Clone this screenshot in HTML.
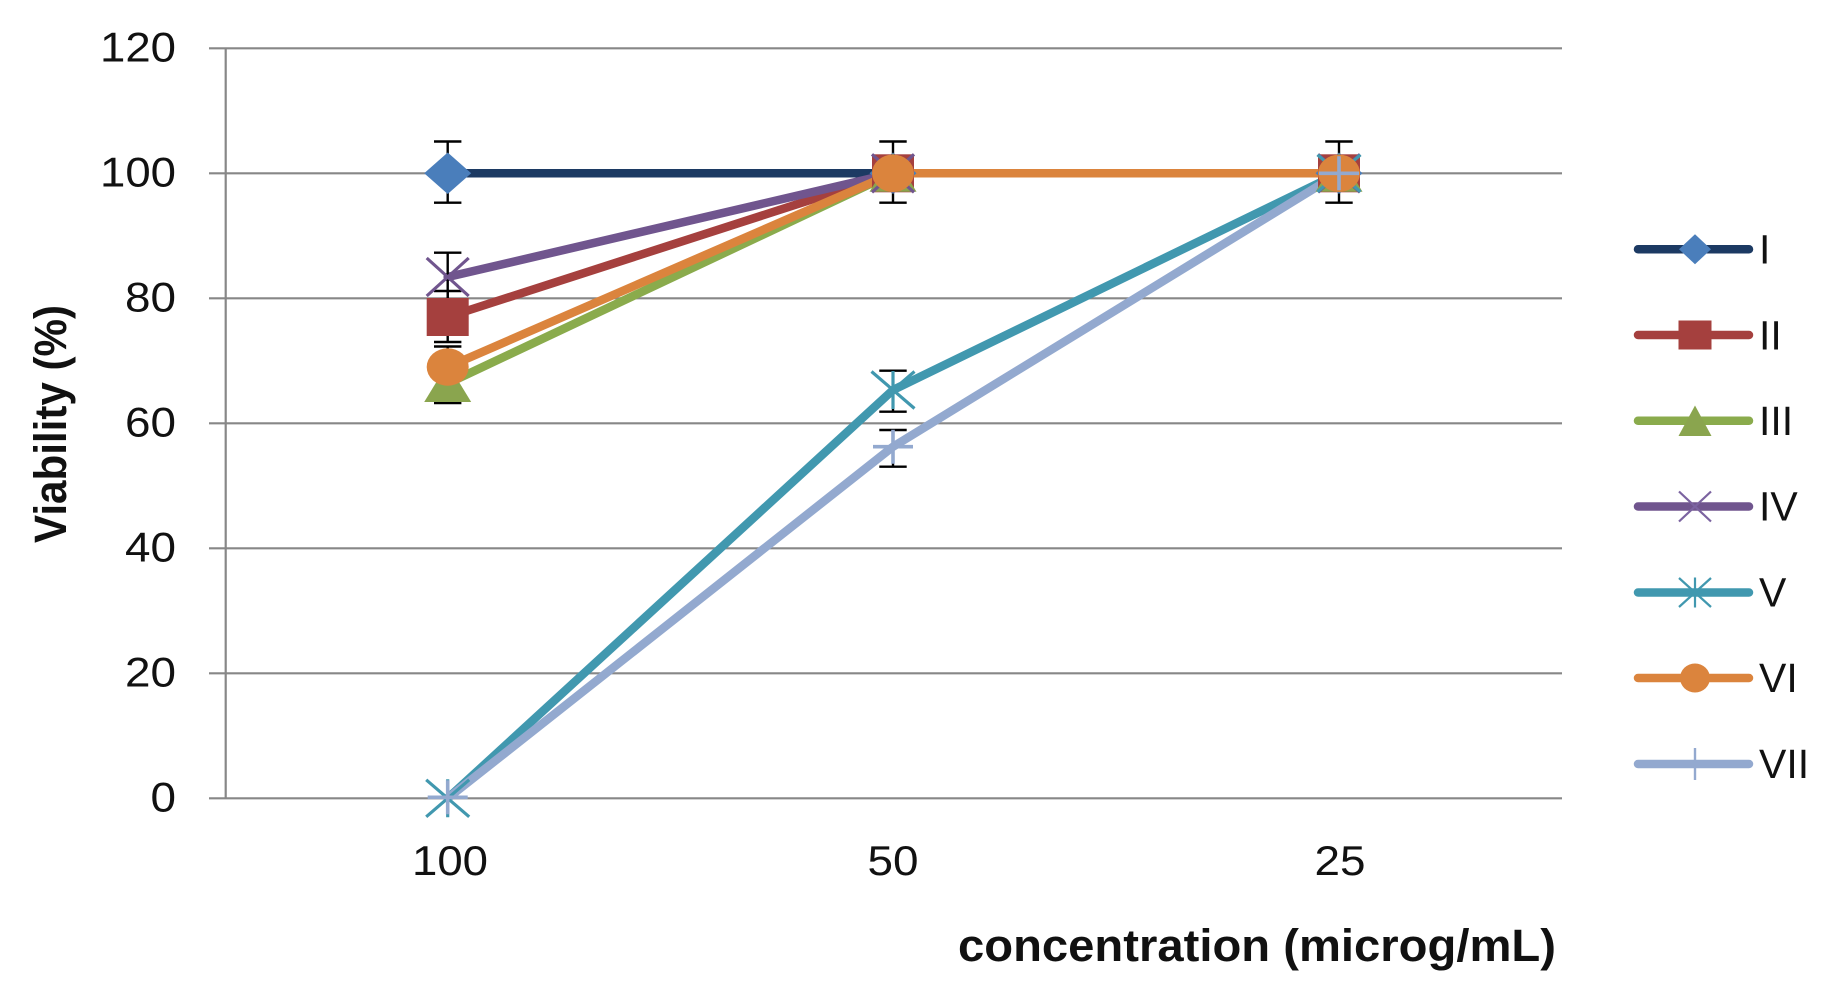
<!DOCTYPE html>
<html>
<head>
<meta charset="utf-8">
<style>
  html, body { margin: 0; padding: 0; background: #ffffff; }
  svg { display: block; }
  text { font-family: "Liberation Sans", Arial, sans-serif; fill: #111; }
</style>
</head>
<body>
<svg width="1833" height="1008" viewBox="0 0 1833 1008" xmlns="http://www.w3.org/2000/svg">
  <rect x="0" y="0" width="1833" height="1008" fill="#ffffff"/>

  <!-- gridlines -->
  <g stroke="#878787" stroke-width="2.2" fill="none">
    <line x1="209" y1="48.3" x2="1562" y2="48.3"/>
    <line x1="209" y1="173.3" x2="1562" y2="173.3"/>
    <line x1="209" y1="298.3" x2="1562" y2="298.3"/>
    <line x1="209" y1="423.3" x2="1562" y2="423.3"/>
    <line x1="209" y1="548.3" x2="1562" y2="548.3"/>
    <line x1="209" y1="673.3" x2="1562" y2="673.3"/>
    <line x1="209" y1="798.3" x2="1562" y2="798.3"/>
    <line x1="225.7" y1="48.3" x2="225.7" y2="798.3"/>
  </g>

  <!-- y tick labels -->
  <g font-size="42" text-anchor="end">
    <text x="176" y="61.5" textLength="76" lengthAdjust="spacingAndGlyphs">120</text>
    <text x="176" y="186.3" textLength="76" lengthAdjust="spacingAndGlyphs">100</text>
    <text x="176" y="311.3" textLength="51" lengthAdjust="spacingAndGlyphs">80</text>
    <text x="176" y="436.3" textLength="51" lengthAdjust="spacingAndGlyphs">60</text>
    <text x="176" y="561.3" textLength="51" lengthAdjust="spacingAndGlyphs">40</text>
    <text x="176" y="686.3" textLength="51" lengthAdjust="spacingAndGlyphs">20</text>
    <text x="176" y="811.3" textLength="25.5" lengthAdjust="spacingAndGlyphs">0</text>
  </g>

  <!-- x tick labels -->
  <g font-size="42" text-anchor="middle">
    <text x="450" y="875" textLength="76" lengthAdjust="spacingAndGlyphs">100</text>
    <text x="893" y="875" textLength="51" lengthAdjust="spacingAndGlyphs">50</text>
    <text x="1340" y="875" textLength="51" lengthAdjust="spacingAndGlyphs">25</text>
  </g>

  <!-- axis titles -->
  <text x="958" y="961" font-size="45" font-weight="bold" textLength="598" lengthAdjust="spacingAndGlyphs">concentration (microg/mL)</text>
  <text transform="translate(66,424) rotate(-90)" x="0" y="0" font-size="45" font-weight="bold" text-anchor="middle" textLength="238" lengthAdjust="spacingAndGlyphs">Viability (%)</text>

  <!-- series lines -->
  <g fill="none" stroke-width="8.5" stroke-linejoin="round" stroke-linecap="round">
    <polyline stroke="#1C3A63" points="447.7,173.3 893,173.3 1339,173.3"/>
    <polyline stroke="#A5403E" points="447.7,317 893,173.3 1339,173.3"/>
    <polyline stroke="#8AAB4C" points="447.7,383.5 893,173.3 1339,173.3"/>
    <polyline stroke="#70558E" points="447.7,277 893,173.3 1339,173.3"/>
    <polyline stroke="#4198AF" points="447.7,798.3 893,390 1339,173.3"/>
    <polyline stroke="#DB843D" points="447.7,367 893,173.3 1339,173.3"/>
    <polyline stroke="#93A9CF" points="447.7,798.3 893,446.7 1339,173.3"/>
  </g>

  <!-- error bars -->
  <g stroke="#000" stroke-width="2.4" fill="none">
    <line x1="447.7" y1="141.5" x2="447.7" y2="202.7"/>
    <line x1="434" y1="141.5" x2="461.4" y2="141.5"/>
    <line x1="434" y1="202.7" x2="461.4" y2="202.7"/>
    <line x1="893" y1="141.5" x2="893" y2="202.7"/>
    <line x1="879.3" y1="141.5" x2="906.7" y2="141.5"/>
    <line x1="879.3" y1="202.7" x2="906.7" y2="202.7"/>
    <line x1="1339" y1="141.5" x2="1339" y2="202.7"/>
    <line x1="1325.3" y1="141.5" x2="1352.7" y2="141.5"/>
    <line x1="1325.3" y1="202.7" x2="1352.7" y2="202.7"/>
    <line x1="447.7" y1="252.7" x2="447.7" y2="301"/>
    <line x1="434" y1="252.7" x2="461.4" y2="252.7"/>
    <line x1="434" y1="301" x2="461.4" y2="301"/>
    <line x1="447.7" y1="291" x2="447.7" y2="343"/>
    <line x1="434" y1="291" x2="461.4" y2="291"/>
    <line x1="434" y1="342" x2="461.4" y2="342"/>
    <line x1="447.7" y1="346.5" x2="447.7" y2="387.5"/>
    <line x1="434" y1="346.5" x2="461.4" y2="346.5"/>
    <line x1="434" y1="387.5" x2="461.4" y2="387.5"/>
    <line x1="447.7" y1="364" x2="447.7" y2="403"/>
    <line x1="434" y1="364" x2="461.4" y2="364"/>
    <line x1="434" y1="403" x2="461.4" y2="403"/>
    <line x1="893" y1="370.7" x2="893" y2="411.7"/>
    <line x1="879.3" y1="370.7" x2="906.7" y2="370.7"/>
    <line x1="879.3" y1="411.7" x2="906.7" y2="411.7"/>
    <line x1="893" y1="430" x2="893" y2="466.7"/>
    <line x1="879.3" y1="430" x2="906.7" y2="430"/>
    <line x1="879.3" y1="466.7" x2="906.7" y2="466.7"/>
  </g>

  <!-- markers: I diamonds -->
  <g fill="#4A7EBB">
    <polygon points="447.7,152.5 471.2,173.3 447.7,194 424.2,173.3"/>
    <polygon points="893,152.5 916.5,173.3 893,194 869.5,173.3"/>
    <polygon points="1339,152.5 1362.5,173.3 1339,194 1315.5,173.3"/>
  </g>
  <!-- II squares -->
  <g fill="#A5403E">
    <rect x="426.7" y="298" width="42" height="38"/>
    <rect x="872" y="154.3" width="42" height="38"/>
    <rect x="1318" y="154.3" width="42" height="38"/>
  </g>
  <!-- III triangles -->
  <g fill="#8AA54E">
    <polygon points="447.7,363.5 471.2,402 424.2,402"/>
    <polygon points="893,153.3 916.5,191.8 869.5,191.8"/>
    <polygon points="1339,153.3 1362.5,191.8 1315.5,191.8"/>
  </g>
  <!-- IV X -->
  <g stroke="#70558E" stroke-width="3.2" fill="none">
    <path d="M426.7,258 L468.7,296 M426.7,296 L468.7,258"/>
    <path d="M872,154.3 L914,192.3 M872,192.3 L914,154.3"/>
    <path d="M1318,154.3 L1360,192.3 M1318,192.3 L1360,154.3"/>
  </g>
  <!-- V asterisks -->
  <g stroke="#4198AF" stroke-width="3.2" fill="none">
    <path d="M426.2,779.8 L469.2,816.8 M426.2,816.8 L469.2,779.8 M447.7,779.3 L447.7,817.3"/>
    <path d="M871.5,371.5 L914.5,408.5 M871.5,408.5 L914.5,371.5 M893,371 L893,409"/>
    <path d="M1317.5,154.8 L1360.5,191.8 M1317.5,191.8 L1360.5,154.8 M1339,154.3 L1339,192.3"/>
  </g>
  <!-- VI circles -->
  <g fill="#DB843D">
    <ellipse cx="447.7" cy="367" rx="21" ry="18.7"/>
    <ellipse cx="893" cy="173.3" rx="21" ry="18.7"/>
    <ellipse cx="1339" cy="173.3" rx="21" ry="18.7"/>
  </g>
  <!-- VII plus -->
  <g stroke="#93A9CF" stroke-width="3.6" fill="none">
    <path d="M427.7,797.3 L467.7,797.3 M447.7,780.3 L447.7,814.3"/>
    <path d="M873,446.7 L913,446.7 M893,429.7 L893,463.7"/>
    <path d="M1319,173.3 L1359,173.3 M1339,156.3 L1339,190.3"/>
  </g>

  <!-- legend -->
  <g stroke-width="8.5" stroke-linecap="round" fill="none">
    <line x1="1638" y1="249.3" x2="1749" y2="249.3" stroke="#1C3A63"/>
    <line x1="1638" y1="335" x2="1749" y2="335" stroke="#A5403E"/>
    <line x1="1638" y1="420.7" x2="1749" y2="420.7" stroke="#8AAB4C"/>
    <line x1="1638" y1="506.5" x2="1749" y2="506.5" stroke="#70558E"/>
    <line x1="1638" y1="592.5" x2="1749" y2="592.5" stroke="#4198AF"/>
    <line x1="1638" y1="678" x2="1749" y2="678" stroke="#DB843D"/>
    <line x1="1638" y1="764" x2="1749" y2="764" stroke="#93A9CF"/>
  </g>
  <polygon points="1695,234.3 1711,249.3 1695,264.3 1679,249.3" fill="#4A7EBB"/>
  <rect x="1678.5" y="320.5" width="33" height="29" fill="#A5403E"/>
  <polygon points="1695,405.5 1711.5,436 1678.5,436" fill="#8AA54E"/>
  <path d="M1679,491.5 L1711,521.5 M1679,521.5 L1711,491.5" stroke="#7B63A0" stroke-width="2.2" fill="none"/>
  <path d="M1679,578 L1711,607 M1679,607 L1711,578 M1695,577.5 L1695,607.5" stroke="#4198AF" stroke-width="2.2" fill="none"/>
  <ellipse cx="1695" cy="678" rx="15" ry="14.5" fill="#DB843D"/>
  <path d="M1695,748 L1695,780" stroke="#93A9CF" stroke-width="2.4" fill="none"/>

  <g font-size="41">
    <text x="1759" y="263.5">I</text>
    <text x="1759" y="349.5">II</text>
    <text x="1759" y="435">III</text>
    <text x="1759" y="520.5">IV</text>
    <text x="1759" y="606.5">V</text>
    <text x="1759" y="692">VI</text>
    <text x="1759" y="778">VII</text>
  </g>
</svg>
</body>
</html>
